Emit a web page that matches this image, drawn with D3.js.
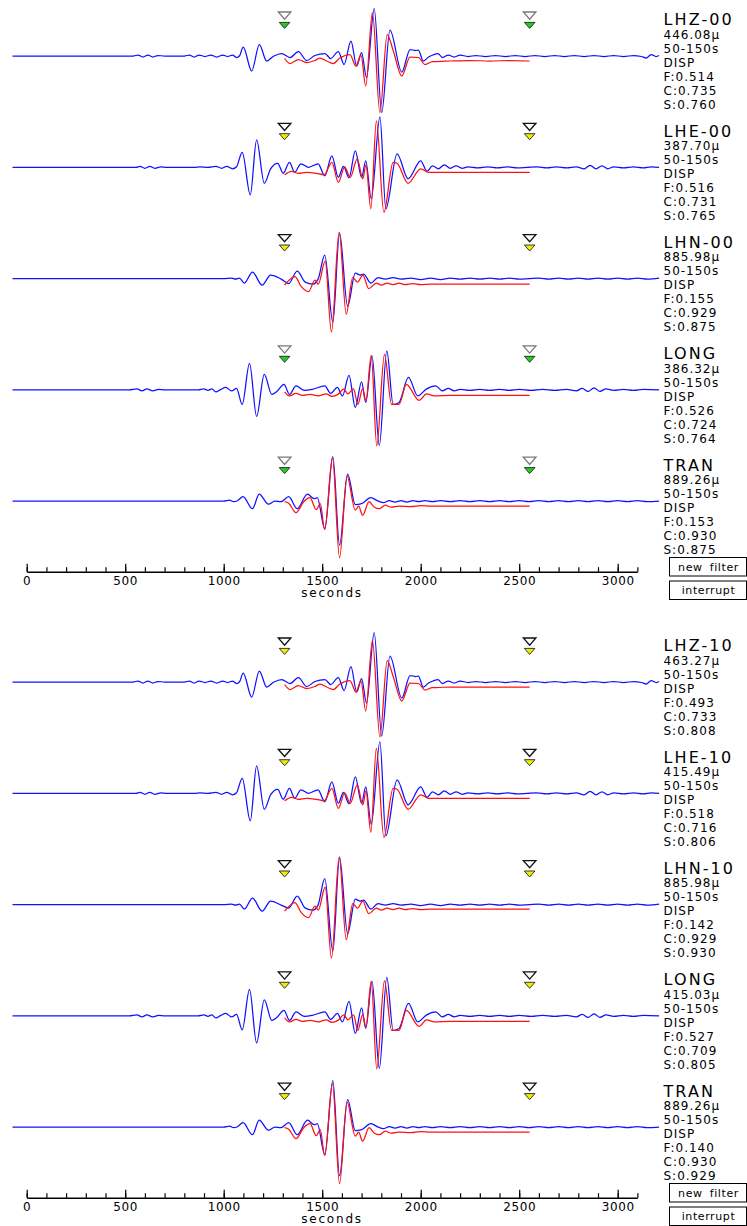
<!DOCTYPE html>
<html><head><meta charset="utf-8">
<script src="https://cdn.jsdelivr.net/npm/d3@7"></script>
<style>
body{margin:0;background:#fff}
svg text{font-family:"DejaVu Sans",sans-serif;fill:#000}
</style>
</head><body>
<svg id="chart" width="747" height="1226"></svg>
<script>
// ---- station / component labels ----
const panelChannels = [
  ["LHZ-00","LHE-00","LHN-00","LONG","TRAN"],
  ["LHZ-10","LHE-10","LHN-10","LONG","TRAN"]
];
const peakAmplitudes = [
  ["446.08","387.70","885.98","386.32","889.26"],
  ["463.27","415.49","885.98","415.03","889.26"]
];
const filterBand = "50-150s";
const measureType = "DISP";
const fitF = [["0.514","0.516","0.155","0.526","0.153"],["0.493","0.518","0.142","0.527","0.140"]];
const fitC = [["0.735","0.731","0.929","0.724","0.930"],["0.733","0.716","0.929","0.709","0.930"]];
const fitS = [["0.760","0.765","0.875","0.764","0.875"],["0.808","0.806","0.930","0.805","0.929"]];
// window pick state per trace: "set" or "open"
const pickState = [
  ["set","open","open","set","set"],
  ["open","open","open","open","open"]
];
// time window (s)
const windowStart = 1309;
const windowEnd = 2553;
// time axis
const majorTicks = [0,500,1000,1500,2000,2500,3000];
const minorTicks = d3.range(0, 3101, 100);
const axisTitle = "seconds";
const buttonLabels = ["new filter","interrupt"];

// ---- waveforms: [time s, relative displacement] ----
const obsLHZ00 = [[-72,0],[300,0],[540,0],[565,2],[590,-2],[615,2],[640,-2],[665,1],[700,0],[800,0],[825,2],[850,-2],[875,2],[905,-1],[935,2],[965,-2],[995,2],[1020,-1],[1045,2],[1065,-3],[1080,0],
[1099,18],[1142,-30],[1181,23],[1218,-10],[1255,0],[1294,5],[1337,-3],[1379,9],[1421,-9],[1463,1],[1514,5],[1543,-5],[1582,9],[1611,-17],[1646,30],[1675,-20],[1700,7],[1725,-43],[1764,95],[1802,-113],[1844,52],[1904,-32],[1946,13],[1975,11],[1988,12],[2013,-10],[2040,-2],[2062,2],[2088,5],[2110,-3],[2140,2],[2170,-2],[2200,2],[2240,-1],[2280,1],[2330,-1],[2380,1],[2430,-1],[2480,1],[2530,-1],[2580,1],[2630,-1],[2680,1],[2730,-1],[2780,1],[2830,-1],[2880,1],[2930,-1],[2980,1],[3030,-1],[3080,1],[3120,-1],[3145,-4],[3170,3],[3195,-1],[3210,1]];
const synLHZ00 = [[1309,-5],[1337,-15],[1379,-7],[1421,-13],[1463,-9],[1489,-4],[1523,-10],[1556,-15],[1590,-4],[1641,3],[1671,-20],[1697,2],[1721,-60],[1755,87],[1793,-113],[1830,43],[1861,10],[1904,-40],[1946,-2],[1988,-3],[2022,-17],[2060,-11],[2081,-11],[2149,-10],[2250,-9],[2350,-10],[2450,-9],[2553,-10]];

const obsLHE00 = [[-72,0],[300,0],[555,0],[575,2],[600,-2],[625,2],[650,-2],[680,1],[710,0],[850,0],[880,1],[920,0],[960,2],[990,-2],[1015,2],[1045,-3],[1065,1],
[1094,30],[1135,-55],[1167,55],[1206,-32],[1238,-3],[1274,8],[1302,-12],[1334,10],[1360,-10],[1392,7],[1431,0],[1479,7],[1513,-17],[1549,23],[1582,-20],[1608,2],[1636,-21],[1668,33],[1700,-20],[1721,13],[1749,-63],[1793,101],[1823,-83],[1880,27],[1936,-23],[2000,13],[2032,-8],[2060,3],[2090,-3],[2120,5],[2150,-2],[2180,3],[2210,-2],[2240,1],[2290,-1],[2340,1],[2390,-1],[2440,1],[2490,-1],[2540,0],[2590,1],[2640,-1],[2690,1],[2740,-1],[2790,1],[2830,-3],[2860,4],[2890,-3],[2920,3],[2950,-3],[2980,1],[3030,-1],[3080,1],[3130,-1],[3170,1],[3210,0]];
const synLHE00 = [[1309,-15],[1345,-8],[1377,-12],[1420,-10],[1470,-12],[1510,-15],[1549,10],[1582,-30],[1614,1],[1642,-20],[1678,17],[1706,-23],[1722,5],[1747,-83],[1775,93],[1813,-90],[1860,10],[1880,8],[1936,-32],[2000,-3],[2040,-10],[2100,-10],[2200,-10],[2350,-10],[2553,-10]];

const obsLHN00 = [[-72,0],[450,0],[800,0],[1000,0],[1040,1],[1060,-1],[1080,1],
[1105,-9],[1146,13],[1195,-13],[1238,7],[1292,-1],[1330,-10],[1373,15],[1414,-7],[1453,-11],[1479,-1],[1513,47],[1554,-87],[1588,91],[1629,-55],[1668,11],[1693,7],[1710,9],[1747,-9],[1783,2],[1820,-1],[1860,2],[1900,-1],[1950,1],[2000,-2],[2050,1],[2100,-2],[2150,1],[2200,-1],[2250,1],[2300,-1],[2350,1],[2400,-1],[2450,1],[2500,-1],[2550,0],[2600,1],[2650,-1],[2700,1],[2750,-1],[2800,1],[2850,-1],[2900,1],[2950,-1],[3000,1],[3050,-1],[3100,1],[3150,-1],[3210,1]];
const synLHN00 = [[1309,-13],[1362,4],[1392,-15],[1431,-26],[1463,-3],[1480,-11],[1515,35],[1547,-107],[1586,93],[1622,-71],[1655,2],[1680,-7],[1706,7],[1736,-20],[1775,-9],[1800,-13],[1830,-9],[1860,-12],[1890,-9],[1920,-12],[1960,-10],[2000,-12],[2050,-11],[2150,-11],[2300,-11],[2553,-11]];

const obsLONG00 = [[-72,0],[520,0],[560,2],[585,-2],[610,2],[640,-2],[670,1],[700,0],[870,0],[900,2],[920,-1],[940,2],[960,-4],[985,1],[1010,5],[1040,-2],[1065,3],
[1094,-29],[1131,53],[1167,-53],[1206,31],[1244,-9],[1270,-3],[1306,11],[1334,-9],[1367,8],[1410,-1],[1450,1],[1513,8],[1543,-7],[1577,5],[1603,-12],[1636,29],[1668,-35],[1700,16],[1721,-25],[1753,68],[1790,-111],[1828,78],[1860,-29],[1890,-25],[1938,25],[1985,-12],[2030,2],[2076,8],[2110,-2],[2140,3],[2170,-2],[2200,1],[2250,-1],[2300,1],[2350,-1],[2400,1],[2450,-1],[2500,1],[2560,-1],[2620,1],[2680,-1],[2740,1],[2790,-2],[2820,3],[2850,-3],[2880,4],[2910,-3],[2940,2],[2980,-1],[3030,1],[3080,-1],[3130,1],[3210,0]];
const synLONG00 = [[1309,-4],[1334,-12],[1367,-7],[1400,-11],[1440,-9],[1480,-12],[1520,-8],[1550,-13],[1580,-9],[1610,2],[1630,-8],[1659,2],[1681,-29],[1705,2],[1722,-22],[1749,69],[1777,-112],[1816,71],[1852,-29],[1890,-29],[1927,11],[1992,-21],[2030,-8],[2070,-12],[2150,-11],[2300,-11],[2553,-11]];

const obsTRAN00 = [[-72,0],[950,0],[1000,0],[1030,2],[1050,-1],[1070,1],
[1098,9],[1146,-15],[1180,14],[1227,-6],[1260,0],[1290,-1],[1330,9],[1373,-15],[1425,14],[1460,5],[1475,7],[1513,-55],[1554,89],[1588,-88],[1629,54],[1668,-7],[1700,-5],[1747,7],[1785,0],[1810,-3],[1840,1],[1870,-2],[1900,1],[1930,-2],[1960,1],[1990,-1],[2020,1],[2060,-1],[2100,1],[2150,-1],[2200,1],[2250,-1],[2300,1],[2350,-1],[2400,1],[2450,-1],[2500,1],[2550,-1],[2600,1],[2650,-1],[2700,1],[2750,-1],[2800,1],[2850,-1],[2900,1],[2950,-1],[3000,1],[3050,-1],[3100,1],[3150,-1],[3210,0]];
const synTRAN00 = [[1309,-1],[1330,-4],[1367,-23],[1406,-1],[1438,7],[1470,-17],[1490,-5],[1513,-57],[1552,87],[1588,-113],[1626,50],[1668,-18],[1685,-10],[1705,-28],[1738,-1],[1765,-12],[1790,-15],[1820,-8],[1850,-12],[1890,-10],[1950,-11],[2000,-9],[2050,-10],[2150,-10],[2300,-10],[2553,-10]];

const obsLHZ10 = [[-72,0],[300,0],[540,0],[565,2],[590,-2],[615,2],[640,-2],[665,1],[700,0],[800,0],[825,2],[850,-2],[875,2],[905,-1],[935,2],[965,-2],[995,2],[1020,-1],[1045,2],[1065,-3],[1080,0],
[1099,18],[1142,-30],[1181,22],[1218,-10],[1255,0],[1294,5],[1337,-3],[1379,9],[1421,-9],[1463,1],[1514,5],[1543,-5],[1582,9],[1611,-17],[1646,31],[1675,-20],[1700,7],[1725,-42],[1764,99],[1802,-108],[1844,52],[1904,-32],[1946,13],[1975,11],[1988,12],[2013,-10],[2040,-2],[2062,2],[2088,5],[2110,-3],[2140,2],[2170,-2],[2200,2],[2240,-1],[2280,1],[2330,-1],[2380,1],[2430,-1],[2480,1],[2530,-1],[2580,1],[2630,-1],[2680,1],[2730,-1],[2780,1],[2830,-1],[2880,1],[2930,-1],[2980,1],[3030,-1],[3080,1],[3120,-1],[3145,-4],[3170,3],[3195,-1],[3210,1]];
const synLHZ10 = [[1309,-5],[1337,-15],[1379,-7],[1421,-13],[1463,-9],[1489,-4],[1523,-10],[1556,-15],[1590,-4],[1641,3],[1671,-20],[1697,2],[1721,-58],[1755,83],[1793,-110],[1830,43],[1861,10],[1904,-38],[1946,-2],[1988,-3],[2022,-16],[2060,-11],[2081,-11],[2149,-10],[2250,-10],[2350,-10],[2450,-10],[2553,-10]];

const obsLHE10 = [[-72,0],[300,0],[555,0],[575,2],[600,-2],[625,2],[650,-2],[680,1],[710,0],[850,0],[880,1],[920,0],[960,2],[990,-2],[1015,2],[1045,-3],[1065,1],
[1094,30],[1135,-55],[1167,55],[1206,-32],[1238,-3],[1274,8],[1302,-12],[1334,10],[1360,-10],[1392,7],[1431,0],[1479,7],[1513,-17],[1549,23],[1582,-20],[1608,2],[1636,-21],[1668,33],[1700,-20],[1721,13],[1749,-62],[1793,103],[1823,-85],[1880,27],[1936,-23],[2000,13],[2032,-8],[2060,3],[2090,-3],[2120,5],[2150,-2],[2180,3],[2210,-2],[2240,1],[2290,-1],[2340,1],[2390,-1],[2440,1],[2490,-1],[2540,0],[2590,1],[2640,-1],[2690,1],[2740,-1],[2790,1],[2830,-3],[2860,4],[2890,-3],[2920,3],[2950,-3],[2980,1],[3030,-1],[3080,1],[3130,-1],[3170,1],[3210,0]];
const synLHE10 = [[1309,-15],[1345,-8],[1377,-12],[1420,-10],[1470,-12],[1510,-15],[1549,10],[1582,-30],[1614,1],[1642,-20],[1678,17],[1706,-23],[1722,5],[1747,-78],[1775,90],[1813,-88],[1860,10],[1880,8],[1936,-32],[2000,-3],[2040,-10],[2100,-10],[2200,-10],[2350,-10],[2553,-10]];

const obsLHN10 = [[-72,0],[450,0],[800,0],[1000,0],[1040,1],[1060,-1],[1080,1],
[1105,-9],[1146,13],[1195,-13],[1238,7],[1292,-1],[1330,-7],[1373,17],[1414,-7],[1453,-11],[1479,-1],[1513,52],[1554,-93],[1588,95],[1629,-58],[1668,11],[1693,7],[1710,9],[1747,-9],[1783,2],[1820,-1],[1860,2],[1900,-1],[1950,1],[2000,-2],[2050,1],[2100,-2],[2150,1],[2200,-1],[2250,1],[2300,-1],[2350,1],[2400,-1],[2450,1],[2500,-1],[2550,0],[2600,1],[2650,-1],[2700,1],[2750,-1],[2800,1],[2850,-1],[2900,1],[2950,-1],[3000,1],[3050,-1],[3100,1],[3150,-1],[3210,1]];
const synLHN10 = [[1309,-13],[1362,4],[1392,-15],[1431,-26],[1463,-3],[1480,-11],[1515,35],[1547,-107],[1586,95],[1622,-70],[1655,2],[1680,-7],[1706,7],[1736,-18],[1775,-7],[1800,-11],[1830,-7],[1860,-10],[1890,-7],[1920,-10],[1960,-8],[2000,-10],[2050,-9],[2150,-9],[2300,-9],[2553,-9]];

const obsLONG10 = [[-72,0],[520,0],[560,2],[585,-2],[610,2],[640,-2],[670,1],[700,0],[870,0],[900,2],[920,-1],[940,2],[960,-4],[985,1],[1010,5],[1040,-2],[1065,3],
[1094,-28],[1131,53],[1167,-54],[1206,32],[1244,-9],[1270,-3],[1306,11],[1334,-9],[1367,8],[1410,-1],[1450,1],[1513,8],[1543,-7],[1577,5],[1603,-12],[1636,29],[1668,-35],[1700,16],[1721,-25],[1753,69],[1790,-105],[1828,77],[1860,-29],[1890,-25],[1938,25],[1985,-12],[2030,2],[2076,8],[2110,-2],[2140,3],[2170,-2],[2200,1],[2250,-1],[2300,1],[2350,-1],[2400,1],[2450,-1],[2500,1],[2560,-1],[2620,1],[2680,-1],[2740,1],[2790,-2],[2820,3],[2850,-3],[2880,4],[2910,-3],[2940,2],[2980,-1],[3030,1],[3080,-1],[3130,1],[3210,0]];
const synLONG10 = [[1309,-4],[1334,-12],[1367,-7],[1400,-11],[1440,-9],[1480,-12],[1520,-8],[1550,-13],[1580,-9],[1610,2],[1630,-8],[1659,2],[1681,-29],[1705,2],[1722,-22],[1749,69],[1777,-106],[1816,70],[1852,-29],[1890,-29],[1927,11],[1992,-21],[2030,-8],[2070,-12],[2150,-11],[2300,-11],[2553,-11]];

const obsTRAN10 = [[-72,0],[950,0],[1000,0],[1030,2],[1050,-1],[1070,1],
[1098,9],[1146,-15],[1180,14],[1227,-6],[1260,0],[1290,-1],[1330,9],[1373,-15],[1425,14],[1460,5],[1475,7],[1513,-55],[1554,93],[1588,-97],[1629,55],[1668,-7],[1700,-5],[1747,7],[1785,0],[1810,-3],[1840,1],[1870,-2],[1900,1],[1930,-2],[1960,1],[1990,-1],[2020,1],[2060,-1],[2100,1],[2150,-1],[2200,1],[2250,-1],[2300,1],[2350,-1],[2400,1],[2450,-1],[2500,1],[2550,-1],[2600,1],[2650,-1],[2700,1],[2750,-1],[2800,1],[2850,-1],[2900,1],[2950,-1],[3000,1],[3050,-1],[3100,1],[3150,-1],[3210,0]];
const synTRAN10 = [[1309,-1],[1330,-4],[1367,-23],[1406,-1],[1438,7],[1470,-17],[1490,-5],[1513,-57],[1552,87],[1588,-113],[1626,50],[1668,-18],[1685,-10],[1705,-28],[1738,-1],[1765,-12],[1790,-15],[1820,-8],[1850,-12],[1890,-10],[1950,-11],[2000,-9],[2050,-10],[2150,-10],[2300,-10],[2553,-10]];

const observed = [[obsLHZ00,obsLHE00,obsLHN00,obsLONG00,obsTRAN00],[obsLHZ10,obsLHE10,obsLHN10,obsLONG10,obsTRAN10]];
const synthetic = [[synLHZ00,synLHE00,synLHN00,synLONG00,synTRAN00],[synLHZ10,synLHE10,synLHN10,synLONG10,synTRAN10]];

// ---- layout ----
const svg = d3.select("#chart");
const panelTop = [0, 626];
const firstBaseline = 56;
const traceGap = 111.3;
const axisOffset = 571.7;

const x = d3.scaleLinear().domain([0, 3100]).range([26.7, 637.4]);
const amp = d3.scaleLinear().domain([-100, 100]).range([50, -50]);
const line = d3.line().x(d => x(d[0])).y(d => amp(d[1])).curve(d3.curveMonotoneX);

const pickFill = {set: "#1fd01f", open: "#f0ee00"};
const pickEdge = {set: "#7a7a7a", open: "#111"};

panelTop.forEach((top, p) => {
  const panel = svg.append("g").attr("transform", `translate(0,${top})`);

  panelChannels[p].forEach((name, i) => {
    const base = firstBaseline + i * traceGap;
    const g = panel.append("g").attr("transform", `translate(0,${base})`);

    g.append("path").datum(observed[p][i])
      .attr("d", line).attr("fill", "none")
      .attr("stroke", "#1010ff").attr("stroke-width", 1.25);
    g.append("path").datum(synthetic[p][i])
      .attr("d", line).attr("fill", "none")
      .attr("stroke", "#ff1010").attr("stroke-width", 1.25);

    // window picks
    [windowStart, windowEnd].forEach(t => {
      const cx = x(t);
      g.append("path")
        .attr("d", `M${cx-6.3},-44L${cx+6.3},-44L${cx},-36.8Z`)
        .attr("fill", "#fff").attr("stroke", pickEdge[pickState[p][i]]).attr("stroke-width", 1.3);
      g.append("path")
        .attr("d", `M${cx-5.3},-33.6L${cx+5.3},-33.6L${cx},-27.6Z`)
        .attr("fill", pickFill[pickState[p][i]]).attr("stroke", "#222").attr("stroke-width", 0.9);
    });

    // trace annotation
    const lab = g.append("g").attr("transform", "translate(663.5,0)");
    lab.append("text").attr("y", -30.7).attr("font-size", 16).attr("letter-spacing", 2.1).text(name);
    const lines = [peakAmplitudes[p][i] + "\u03bc", filterBand, measureType,
      "F:" + fitF[p][i], "C:" + fitC[p][i], "S:" + fitS[p][i]];
    lines.forEach((s, k) => {
      lab.append("text").attr("y", -17.2 + 14 * k).attr("font-size", 12)
        .attr("letter-spacing", 1).text(s);
    });
  });

  // time axis
  const ax = panel.append("g").attr("transform", `translate(0,${axisOffset})`);
  ax.call(d3.axisBottom(x).tickValues(minorTicks).tickSizeInner(-4.5).tickSizeOuter(0).tickFormat(""));
  ax.call(g2 => g2.select(".domain").attr("stroke-width", 1.4));
  const major = panel.append("g").attr("transform", `translate(0,${axisOffset})`);
  major.call(d3.axisBottom(x).tickValues(majorTicks).tickSizeInner(-8).tickSizeOuter(0)
    .tickPadding(4.8).tickFormat(d3.format("d")));
  major.select(".domain").remove();
  major.selectAll("text").attr("font-family", "DejaVu Sans").attr("font-size", 12)
    .attr("letter-spacing", 0.6).attr("fill", "#000");
  panel.selectAll(".tick line").attr("stroke", "#000").attr("stroke-width", 1.2);
  panel.append("text").attr("x", x(1550)).attr("y", axisOffset + 25)
    .attr("text-anchor", "middle").attr("font-size", 12).attr("letter-spacing", 1.8).text(axisTitle);

  // control buttons
  buttonLabels.forEach((b, k) => {
    const by = 557.5 + k * 23.5;
    panel.append("rect").attr("x", 669.5).attr("y", by).attr("width", 77).attr("height", 18.5)
      .attr("fill", "#fff").attr("stroke", "#000").attr("stroke-width", 1);
    panel.append("text").attr("x", 708.5).attr("y", by + 13).attr("text-anchor", "middle")
      .attr("font-size", 11).attr("letter-spacing", 0.6).attr("word-spacing", 3).text(b);
  });
});
</script>
</body></html>
